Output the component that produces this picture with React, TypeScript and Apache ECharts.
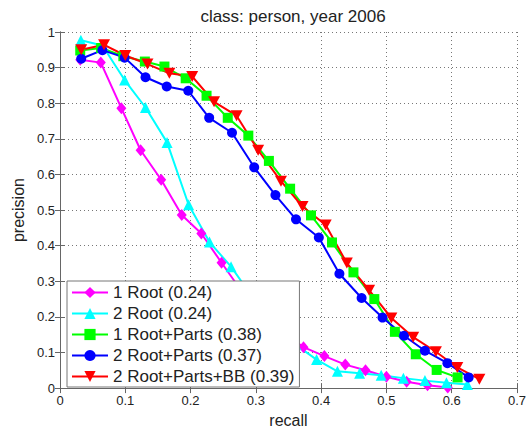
import React, { useEffect, useRef } from "react";
import * as echarts from "echarts";

const titleText = "class: person, year 2006";
const xTicks = [0, 0.7];
const yTicks = [0, 1];

const seriesNames = [
  "1 Root (0.24)",
  "2 Root (0.24)",
  "1 Root+Parts (0.38)",
  "2 Root+Parts (0.37)",
  "2 Root+Parts+BB (0.39)",
];

const oneRootRecall = [0.031, 0.0625, 0.094, 0.1235, 0.155, 0.1865, 0.2165, 0.2475, 0.279, 0.31, 0.342, 0.373, 0.405, 0.437, 0.468, 0.5, 0.531, 0.563, 0.594];
const oneRootPrecision = [0.922, 0.914, 0.786, 0.668, 0.585, 0.486, 0.434, 0.352, 0.27, 0.205, 0.155, 0.115, 0.09, 0.066, 0.05, 0.032, 0.018, 0.008, 0.002];

const twoRootRecall = [0.032, 0.065, 0.099, 0.131, 0.164, 0.197, 0.229, 0.262, 0.295, 0.328, 0.361, 0.393, 0.425, 0.459, 0.492, 0.526, 0.559, 0.592, 0.624];
const twoRootPrecision = [0.977, 0.962, 0.865, 0.788, 0.69, 0.515, 0.41, 0.341, 0.255, 0.18, 0.122, 0.08, 0.047, 0.042, 0.036, 0.028, 0.021, 0.015, 0.01];

const oneRootPartsRecall = [0.031, 0.063, 0.097, 0.13, 0.16, 0.1925, 0.2245, 0.257, 0.2885, 0.32, 0.3525, 0.3845, 0.4167, 0.4495, 0.4815, 0.513, 0.545, 0.577, 0.609];
const oneRootPartsPrecision = [0.948, 0.955, 0.932, 0.917, 0.903, 0.87, 0.821, 0.759, 0.709, 0.638, 0.56, 0.485, 0.409, 0.325, 0.25, 0.158, 0.095, 0.051, 0.03];

const twoRootPartsRecall = [0.0325, 0.065, 0.099, 0.131, 0.1635, 0.1965, 0.2285, 0.2635, 0.2975, 0.33, 0.3615, 0.3965, 0.428, 0.462, 0.494, 0.527, 0.559, 0.5935, 0.626];
const twoRootPartsPrecision = [0.925, 0.949, 0.928, 0.873, 0.847, 0.835, 0.759, 0.717, 0.62, 0.542, 0.474, 0.423, 0.321, 0.253, 0.198, 0.147, 0.105, 0.07, 0.03];

const twoRootPartsBBRecall = [0.0325, 0.0675, 0.1, 0.134, 0.1675, 0.2025, 0.236, 0.2705, 0.3035, 0.3385, 0.3715, 0.407, 0.4394, 0.4735, 0.5076, 0.541, 0.5758, 0.6086, 0.6424];
const twoRootPartsBBPrecision = [0.95, 0.964, 0.934, 0.91, 0.884, 0.875, 0.804, 0.765, 0.668, 0.581, 0.51, 0.458, 0.351, 0.275, 0.197, 0.143, 0.102, 0.058, 0.025];

const FONT = "'Liberation Sans', Arial, sans-serif";

function zip(xs: number[], ys: number[]) {
  return xs.map((x, i) => [x, ys[i]]);
}

export default function App() {
  const ref = useRef<HTMLDivElement>(null);
  useEffect(() => {
    if (!ref.current) return;
    const chart = echarts.init(ref.current, null, { renderer: "svg" });
    const downTri = "path://M0,0 L10,0 L5,9 Z";
    const mk = (
      name: string,
      color: string,
      symbol: string,
      size: number | number[],
      data: number[][]
    ) => ({
      name,
      type: "line",
      data,
      symbol,
      symbolSize: size,
      showSymbol: true,
      lineStyle: { color, width: 2 },
      itemStyle: { color, borderWidth: 0 },
      emphasis: { disabled: true },
      z: 3,
    });
    const axisCommon = {
      axisLine: { show: true, lineStyle: { color: "#666", width: 1 } },
      axisTick: { show: true, inside: true, length: 5, lineStyle: { color: "#666" } },
    };
    chart.setOption({
      animation: false,
      backgroundColor: "#ffffff",
      title: {
        text: titleText,
        left: 288,
        top: 3,
        textAlign: "center",
        textStyle: { fontFamily: FONT, fontSize: 17, fontWeight: "normal", color: "#222" },
      },
      grid: { left: 60, right: 12, top: 32, bottom: 38, containLabel: false },
      legend: {
        orient: "vertical",
        left: 67,
        top: 281,
        backgroundColor: "#ffffff",
        borderColor: "#777",
        borderWidth: 1,
        borderRadius: 0,
        padding: [3, 5, 2, 4],
        itemWidth: 36,
        itemHeight: 14,
        itemGap: 4,
        textStyle: { fontFamily: FONT, fontSize: 17, color: "#222", lineHeight: 17 },
        data: seriesNames,
      },
      xAxis: [
        {
          type: "value",
          min: xTicks[0],
          max: xTicks[1],
          interval: 0.1,
          name: "recall",
          nameLocation: "middle",
          nameGap: 20,
          nameTextStyle: { fontFamily: FONT, fontSize: 16, color: "#222" },
          axisLabel: { fontFamily: FONT, fontSize: 13, color: "#222", margin: 6 },
          splitLine: { show: true, lineStyle: { color: "#777", type: [1, 3], width: 1 } },
          ...axisCommon,
        },
        {
          type: "value",
          position: "top",
          min: xTicks[0],
          max: xTicks[1],
          interval: 0.1,
          axisLabel: { show: false },
          splitLine: { show: false },
          ...axisCommon,
        },
      ],
      yAxis: [
        {
          type: "value",
          min: yTicks[0],
          max: yTicks[1],
          interval: 0.1,
          name: "precision",
          nameLocation: "middle",
          nameGap: 34,
          nameTextStyle: { fontFamily: FONT, fontSize: 16, color: "#222" },
          axisLabel: { fontFamily: FONT, fontSize: 13, color: "#222", margin: 5 },
          splitLine: { show: true, lineStyle: { color: "#777", type: [1, 3], width: 1 } },
          ...axisCommon,
        },
        {
          type: "value",
          position: "right",
          min: yTicks[0],
          max: yTicks[1],
          interval: 0.1,
          axisLabel: { show: false },
          splitLine: { show: false },
          ...axisCommon,
        },
      ],
      series: [
        mk(seriesNames[0], "#ff00ff", "diamond", [10, 12], zip(oneRootRecall, oneRootPrecision)),
        mk(seriesNames[1], "#00ffff", "triangle", 11, zip(twoRootRecall, twoRootPrecision)),
        mk(seriesNames[2], "#00ff00", "rect", 10, zip(oneRootPartsRecall, oneRootPartsPrecision)),
        mk(seriesNames[3], "#0000ff", "circle", 10, zip(twoRootPartsRecall, twoRootPartsPrecision)),
        mk(seriesNames[4], "#ff0000", downTri, [12, 11], zip(twoRootPartsBBRecall, twoRootPartsBBPrecision)),
      ],
    });
    return () => chart.dispose();
  }, []);
  return (
    <div
      ref={ref}
      style={{ position: "fixed", left: 0, top: 0, width: 529, height: 433, background: "#fff" }}
    />
  );
}
